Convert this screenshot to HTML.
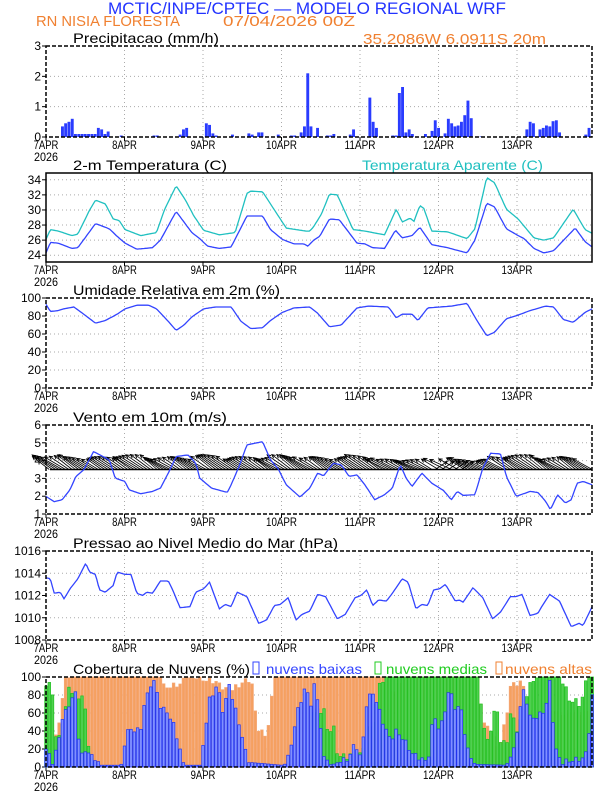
<!DOCTYPE html>
<html><head><meta charset="utf-8">
<style>
html,body{margin:0;padding:0;background:#fff;}
svg{display:block;}
text{font-family:"Liberation Sans",sans-serif;}
</style></head>
<body>
<svg id="s" width="612" height="792" xmlns="http://www.w3.org/2000/svg"></svg>
<script>
const S=document.getElementById('s');
let out='';
const X0=46,X1=592,DAY=78.5,PH=DAY/24;
function hx(h){return X0+h*PH;}
function z2h(z){return (z-129)*0.1202;}
function interp(pts,h){
  const p=pts.map(a=>[z2h(a[0]),a[1]]);
  if(h<=p[0][0])return p[0][1];
  for(let i=1;i<p.length;i++){if(h<=p[i][0]){const t=(h-p[i-1][0])/(p[i][0]-p[i-1][0]);return p[i-1][1]+t*(p[i][1]-p[i-1][1]);}}
  return p[p.length-1][1];
}
function txt(x,y,s,size,col,anchor,extra){out+=`<text x="${x}" y="${y}" font-size="${size}" fill="${col}" ${anchor?'text-anchor="'+anchor+'"':''} ${extra||''}>${s}</text>`;}
function tw(x1,x2,y,s,size,col){txt(x1,y,s,size,col,'',`textLength="${x2-x1}" lengthAdjust="spacingAndGlyphs"`);}
function panel(top,bot,vmin,vmax,ticks,title,tEnd){
  const fy=v=>bot-(v-vmin)/(vmax-vmin)*(bot-top);
  for(const t of ticks){const y=fy(t);if(y>top+1&&y<bot-1)out+=`<line x1="${X0}" y1="${y}" x2="${X1}" y2="${y}" stroke="#aaa" stroke-dasharray="1,3"/>`;}
  for(let d=1;d<7;d++){const x=X0+d*DAY;out+=`<line x1="${x}" y1="${top}" x2="${x}" y2="${bot}" stroke="#aaa" stroke-dasharray="1,3"/>`;}
  for(const t of ticks){const y=fy(t);out+=`<line x1="${X0-4}" y1="${y}" x2="${X0}" y2="${y}" stroke="#000"/>`;txt(X0-5,y+4,t,12,'#000','end');}
  const days=['7APR','8APR','9APR','10APR','11APR','12APR','13APR'];
  for(let d=0;d<7;d++){const x=X0+d*DAY;out+=`<line x1="${x}" y1="${bot}" x2="${x}" y2="${bot+4}" stroke="#000"/>`;txt(x,bot+12,days[d],12,'#000','middle','textLength="'+(days[d].length*6.2)+'" lengthAdjust="spacingAndGlyphs"');}
  txt(X0,bot+24,'2026',12,'#000','middle','textLength="24" lengthAdjust="spacingAndGlyphs"');
  if(title)tw(73,tEnd,top-3,title,14,'#000');
  return fy;
}
function frame(top,bot,dashed){out+=`<rect x="${X0}" y="${top}" width="${X1-X0}" height="${bot-top}" fill="none" stroke="#000" stroke-width="1.5" ${dashed?'stroke-dasharray="4,2"':''}/>`;}
function line(pts,fy,col,conv){let d='';for(let h=0;h<=167;h+=0.5){let v=interp(pts,h);if(conv)v=conv(v);d+=(h?'L':'M')+hx(h).toFixed(1)+','+fy(v).toFixed(1);}out+=`<path d="${d}" fill="none" stroke="${col}" stroke-width="1.3"/>`;}

tw(108,506,14,'MCTIC/INPE/CPTEC — MODELO REGIONAL WRF',17,'#2233ff');
tw(36,180,26,'RN NISIA FLORESTA',15,'#f08030');
tw(223,355,26,'07/04/2026 00Z',15,'#f08030');
tw(363,546,44,'35.2086W 6.0911S 20m',15,'#f08030');

let fy=panel(46,137,0,3,[0,1,2,3],'Precipitacao (mm/h)',219);
const pr={5:.35,6:.45,7:.5,8:.6,9:.1,10:.1,11:.1,12:.1,13:.1,14:.1,15:.1,16:.3,17:.25,18:.1,19:.18,23:.05,33:.05,34:.05,41:.08,42:.25,43:.3,49:.45,50:.4,51:.12,52:.05,57:.08,62:.12,63:.08,65:.15,66:.15,71:.08,75:.05,76:.05,78:.15,79:.35,80:2.1,81:.35,83:.3,86:.05,87:.05,88:.1,93:.08,94:.25,99:1.3,100:.5,101:.3,106:.05,107:.05,108:1.45,109:1.65,110:.15,111:.25,112:.1,116:.1,118:.2,119:.55,120:.3,122:.12,123:.6,124:.45,125:.35,126:.38,127:.5,128:.72,129:1.2,130:.62,133:.02,147:.25,148:.5,149:.45,151:.25,152:.3,153:.38,154:.35,155:.52,156:.55,157:.15,165:.08,166:.3};
for(const k in pr){const h=+k;const y=fy(pr[k]);out+=`<rect x="${(hx(h)-1.4).toFixed(1)}" y="${y.toFixed(1)}" width="2.9" height="${(137-y).toFixed(1)}" fill="#2a3cff"/>`;}
frame(46,137,true);

fy=panel(173,262,23.1,34.9,[24,26,28,30,32,34],'2-m Temperatura (C)',227);
tw(362,543,170,'Temperatura Aparente (C)',14,'#20c0c0');
const tA=[[129,26.1],[140,27.4],[160,27.2],[195,26.6],[210,26.8],[240,30],[255,31.3],[280,30.8],[300,28.8],[315,28.6],[330,27.4],[370,26.6],[410,27],[430,30],[460,33.2],[485,31.2],[505,29.2],[530,27.3],[570,26.7],[610,27],[640,32.2],[650,32.5],[680,32.4],[710,30],[740,27.6],[790,27.2],[800,27.2],[810,27.8],[830,29.5],[850,32.1],[870,32],[910,27.4],[940,27.2],[990,26.7],[1020,30.1],[1035,28.4],[1055,28.9],[1065,28.5],[1080,30.6],[1090,30.2],[1110,27.2],[1150,27.1],[1200,26.2],[1220,27.5],[1250,34.3],[1270,33.6],[1300,30.1],[1330,28.8],[1370,26.3],[1395,26],[1420,26.3],[1470,30.1],[1500,27.4],[1518,26.9]];
const tB=[[129,24.3],[140,25.7],[160,25.6],[195,24.9],[210,25],[255,28.2],[290,27.5],[310,26.5],[330,25.6],[360,24.8],[400,25],[420,26],[460,29.8],[500,27],[520,26.2],[540,25.2],[570,24.9],[600,25.1],[640,29.2],[680,29.2],[700,27.4],[730,26.1],[760,25.5],[785,25.5],[795,25.2],[810,26],[825,26.5],[850,28.8],[875,28.7],[920,25.6],[940,25.5],[960,25],[990,24.9],[1018,27.3],[1035,26.3],[1060,26.6],[1080,27.7],[1110,25.4],[1150,25],[1200,24.3],[1220,26],[1250,30.9],[1270,30.4],[1300,27.5],[1330,26.6],[1345,26.2],[1370,24.9],[1395,24.3],[1420,24.6],[1475,27.6],[1500,25.8],[1518,25.1]];
line(tA,fy,'#20c0c0');line(tB,fy,'#3344ff');
frame(173,262,false);

fy=panel(298,388,0,100,[0,20,40,60,80,100],'Umidade Relativa em 2m (%)',280);
const rh=[[129,93],[140,85],[160,86],[175,88],[200,90],[225,82],[255,72],[280,75],[310,82],[330,88],[360,92],[390,92],[410,88],[440,74],[460,64],[480,70],[500,79],[530,88],[560,90],[600,90],[625,74],[650,66],[680,67],[700,75],[730,84],[760,89],[800,90],[820,83],[850,68],[880,70],[920,89],[950,91],[1000,90],[1020,78],[1035,82],[1060,82],[1075,75],[1100,89],[1160,91],[1200,94],[1225,75],[1250,58],[1270,62],[1300,77],[1330,81],[1360,86],[1400,91],[1420,90],[1445,76],[1470,73],[1500,84],[1518,88]];
line(rh,fy,'#3344ff');frame(298,388,true);

fy=panel(425,514,1,6,[1,2,3,4,5,6],'Vento em 10m (m/s)',227);
const base=fy(3.5);
out+=`<line x1="${X0+4}" y1="${base}" x2="${X1}" y2="${base}" stroke="#000" stroke-width="1.5"/>`;
for(let h=1;h<=167;h++){
  let dx=-(15+5*Math.abs(Math.sin(h*0.37)));
  let dy=-(10+3*Math.abs(Math.cos(h*0.29)));
  const dd=h%24;
  if(dd>=2&&dd<=10){dy-=2;dx-=2;}
  if(h>=104&&h<=140){dy*=0.8;}
  if(h>=118&&h<=128&&h%2){dx=12;dy=-8;}
  const x=hx(h),x2=x+dx,y2=base+dy;
  out+=`<line x1="${x}" y1="${base}" x2="${x2.toFixed(1)}" y2="${y2.toFixed(1)}" stroke="#000" stroke-width="0.8"/>`;
  const ang=Math.atan2(dy,dx);
  const p1=[x2-4*Math.cos(ang+0.45),y2-4*Math.sin(ang+0.45)],p2=[x2-4*Math.cos(ang-0.45),y2-4*Math.sin(ang-0.45)];
  out+=`<path d="M${p1[0].toFixed(1)},${p1[1].toFixed(1)}L${x2.toFixed(1)},${y2.toFixed(1)}L${p2[0].toFixed(1)},${p2[1].toFixed(1)}" fill="none" stroke="#000" stroke-width="0.9"/>`;
}
const wz=[[129,260],[150,276],[170,270],[190,240],[205,200],[225,180],[250,125],[290,150],[305,205],[330,215],[340,240],[370,252],[400,245],[420,235],[440,190],[460,140],[490,135],[510,160],[520,205],[550,235],[590,248],[600,225],[620,170],[640,105],[680,95],[700,150],[720,178],[740,225],[775,262],[800,235],[820,190],[835,198],[860,160],[880,165],[900,200],[920,195],[940,225],[965,270],[990,255],[1010,235],[1030,165],[1045,205],[1060,230],[1085,190],[1110,220],[1140,242],[1160,270],[1175,245],[1190,257],[1220,255],[1240,175],[1260,130],[1285,132],[1300,200],[1325,260],[1360,245],[1380,248],[1400,275],[1412,300],[1430,255],[1450,280],[1465,270],[1480,220],[1495,215],[1518,225]];
line(wz,fy,'#3344ff',v=>6-(v-45)/53.6);
frame(425,514,true);

fy=panel(551,640,1008,1016,[1008,1010,1012,1014,1016],'Pressao ao Nivel Medio do Mar (hPa)',338);
const pz=[[129,1013.6],[140,1013.5],[150,1012.2],[165,1012.3],[175,1011.7],[190,1012.6],[210,1013.5],[230,1014.9],[240,1014.1],[255,1013.9],[265,1012.5],[280,1012.3],[300,1012.9],[310,1014.1],[330,1013.9],[345,1013.9],[360,1012.2],[375,1012],[385,1012.3],[400,1012.2],[420,1013.3],[440,1013.3],[450,1012.6],[470,1010.9],[495,1011],[510,1012.3],[530,1012.6],[545,1013.2],[570,1010.8],[585,1011.2],[600,1011],[615,1012.3],[640,1011.9],[670,1009.5],[690,1009.8],[710,1011.1],[725,1011.2],[745,1011.8],[765,1009.8],[780,1010.3],[800,1010.6],[820,1012.1],[840,1011.9],[870,1009.9],[890,1010.3],[915,1011.8],[930,1012],[945,1012.5],[960,1011.1],[975,1011.6],[995,1011.5],[1010,1012.2],[1035,1013.5],[1050,1013.2],[1070,1010.8],[1085,1011.2],[1100,1011.1],[1115,1012.5],[1130,1012.6],[1145,1013],[1170,1011.5],[1180,1011.6],[1190,1011.4],[1215,1012.7],[1240,1011.8],[1265,1009.9],[1285,1010.5],[1310,1011.9],[1325,1011.9],[1340,1012.1],[1360,1010.2],[1380,1010.4],[1390,1011],[1410,1012.1],[1435,1011.5],[1465,1009.2],[1485,1009.5],[1495,1009.3],[1518,1011]];
line(pz,fy,'#3344ff');frame(551,640,true);

fy=panel(677,767,0,100,[0,20,40,60,80,100],'',0);
tw(73,250,674,'Cobertura de Nuvens (%)',14,'#000');
out+=`<rect x="253" y="662" width="6" height="12" fill="none" stroke="#3344ff"/>`;tw(266,362,674,'nuvens baixas',14,'#3344ff');
out+=`<rect x="375" y="662" width="6" height="12" fill="none" stroke="#20cc20"/>`;tw(386,487,674,'nuvens medias',14,'#20cc20');
out+=`<rect x="496" y="662" width="6" height="12" fill="none" stroke="#f08030"/>`;tw(505,592,674,'nuvens altas',14,'#f08030');
const hi=[[129,0],[150,30],[160,40],[175,95],[190,100],[420,100],[430,88],[470,92],[480,100],[560,95],[590,85],[620,90],[640,100],[655,90],[665,45],[690,33],[700,65],[710,100],[1000,100],[1020,75],[1030,100],[1230,100],[1240,50],[1260,40],[1280,20],[1300,55],[1310,90],[1340,95],[1360,60],[1518,60]];
const md=[[129,90],[145,92],[150,30],[165,35],[170,50],[180,65],[185,92],[200,80],[225,78],[240,15],[250,0],[800,0],[810,60],[835,65],[845,40],[860,45],[870,15],[890,10],[900,15],[920,5],[940,25],[960,50],[980,95],[990,100],[1230,100],[1240,52],[1250,25],[1265,52],[1275,70],[1285,30],[1300,22],[1310,60],[1330,40],[1350,80],[1365,95],[1380,100],[1440,100],[1460,75],[1490,70],[1505,100],[1518,100]];
const lo=[[129,20],[135,15],[145,5],[160,25],[170,55],[185,65],[195,78],[205,81],[215,15],[230,15],[240,20],[250,5],[260,10],[270,2],[320,2],[330,30],[340,43],[360,40],[370,43],[380,73],[390,83],[400,100],[410,85],[420,68],[430,63],[440,60],[455,45],[470,20],[480,2],[520,2],[530,30],[545,75],[565,91],[580,60],[595,92],[610,65],[625,40],[640,10],[650,5],[730,2],[750,15],[765,58],[780,75],[790,96],[800,60],[810,95],[825,60],[835,10],[860,3],[900,10],[915,28],[930,8],[945,72],[960,84],[975,65],[990,45],[1005,30],[1020,40],[1040,30],[1060,15],[1080,10],[1100,5],[1115,60],[1130,40],[1140,55],[1155,88],[1170,65],[1185,65],[1200,20],[1220,3],[1300,2],[1320,20],[1335,65],[1345,88],[1360,55],[1375,55],[1385,58],[1400,65],[1410,95],[1425,20],[1440,5],[1500,10],[1510,40],[1518,78]];
function bars(pts,fill,stroke,jit){for(let h=0;h<=167;h++){let v=interp(pts,h);v=Math.max(0,Math.min(100,v+(v>5&&v<98?jit*Math.sin(h*2.3):0)));if(v<=0.5)continue;const y=fy(v);out+=`<rect x="${(hx(h)-1.3).toFixed(1)}" y="${y.toFixed(1)}" width="2.6" height="${(767-y).toFixed(1)}" fill="${fill}" stroke="${stroke}" stroke-width="0.7"/>`;}}
bars(hi,'#f5a060','#f4a878',3);
bars(md,'#50d050','#20c020',4);
bars(lo,'#8090ff','#2233ee',3);
frame(677,767,true);

S.innerHTML=out;
</script>
</body></html>
